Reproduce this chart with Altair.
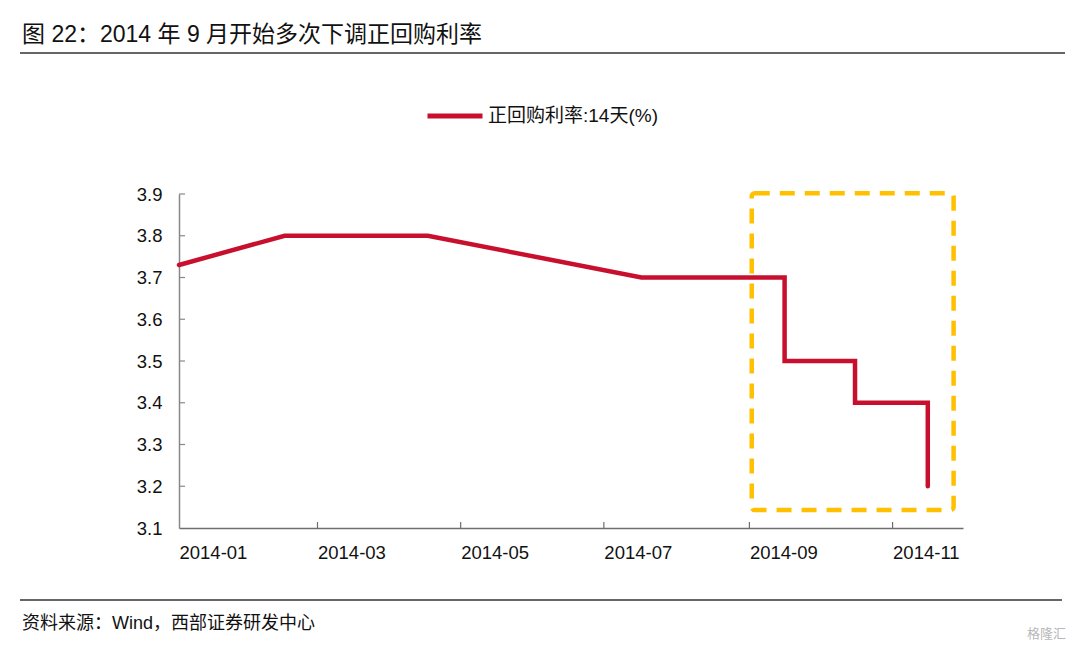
import altair as alt
import pandas as pd

# ---- data ----
dates = ["2014-01-01", "2014-02-15", "2014-04-17", "2014-07-17", "2014-09-16",
         "2014-09-16", "2014-10-16", "2014-10-16", "2014-11-16", "2014-11-16"]
rates = [3.73, 3.80, 3.80, 3.70, 3.70, 3.50, 3.50, 3.40, 3.40, 3.20]
series_name = "正回购利率:14天(%)"

y_ticks = [3.2, 3.3, 3.4, 3.5, 3.6, 3.7, 3.8, 3.9]
x_tick_dates = ["2014-03-01", "2014-05-01", "2014-07-01", "2014-09-01", "2014-11-01"]

box_x = ["2014-09-02"]
box_x2 = ["2014-11-27"]
box_y = [3.902]
box_y2 = [3.143]

title_text = "图 22：2014 年 9 月开始多次下调正回购利率"
source_text = "资料来源：Wind，西部证券研发中心"
mark_text = "格隆汇"

W, H = 784, 334
FONT = "Liberation Sans, Arial, Noto Sans CJK SC"

line_df = pd.DataFrame({"date": dates, "rate": rates, "idx": list(range(len(dates))),
                        "series": [series_name] * len(dates)})
ytick_df = pd.DataFrame({"v": y_ticks})
xtick_df = pd.DataFrame({"d": x_tick_dates})
box_df = pd.DataFrame({"x": box_x, "x2": box_x2, "y": box_y, "y2": box_y2})
one = pd.DataFrame({"a": [0]})

xscale = alt.Scale(type="utc",
                   domain=[alt.DateTime(year=2014, month=1, date=1, utc=True),
                           alt.DateTime(year=2014, month=12, date=1, utc=True)])
yscale = alt.Scale(domain=[3.1, 3.9], nice=False, zero=False)

x_axis = alt.Axis(
    values=[alt.DateTime(year=2014, month=m, date=1, utc=True) for m in [1, 3, 5, 7, 9, 11]],
    labelExpr="utcFormat(datum.value, '%Y-%m')",
    ticks=False, grid=False, domainColor="#6e6e6e", domainWidth=1.5,
    labelFontSize=18.5, labelColor="#111111", labelFont=FONT, labelPadding=15,
    labelAlign="left", title=None, labelFlush=False, labelOverlap=False,
)
y_axis = alt.Axis(
    values=[3.1, 3.2, 3.3, 3.4, 3.5, 3.6, 3.7, 3.8, 3.9], format=".1f",
    ticks=False, grid=False, domainColor="#888888", domainWidth=1.5,
    labelFontSize=18.5, labelColor="#111111", labelFont=FONT, labelPadding=17,
    title=None,
)

line = alt.Chart(line_df).mark_line(strokeWidth=4.5, strokeJoin="miter", strokeCap="round").encode(
    x=alt.X("date:T", scale=xscale, axis=x_axis),
    y=alt.Y("rate:Q", scale=yscale, axis=y_axis),
    order="idx:Q",
    color=alt.Color("series:N",
                    scale=alt.Scale(domain=[series_name], range=["#C8102E"]),
                    legend=alt.Legend(
                        title=None, orient="none", legendX=246, legendY=-108,
                        symbolType="stroke", symbolStrokeWidth=5, symbolSize=3025,
                        labelFontSize=19, labelFont=FONT, labelColor="#111111",
                        labelOffset=3, labelLimit=500,
                    )),
)

yticks = alt.Chart(ytick_df).mark_rule(color="#888888", strokeWidth=1.2).encode(
    y=alt.Y("v:Q", scale=yscale), x=alt.value(0), x2=alt.value(6)
)
xticks = alt.Chart(xtick_df).mark_rule(color="#6e6e6e", strokeWidth=1.2).encode(
    x=alt.X("d:T", scale=xscale), y=alt.value(H), y2=alt.value(H - 6)
)

box = alt.Chart(box_df).mark_rect(
    fill=None, fillOpacity=0, stroke="#FFC000", strokeWidth=4.5,
    strokeDash=[15, 10], cornerRadius=3,
).encode(
    x=alt.X("x:T", scale=xscale), x2="x2:T",
    y=alt.Y("y:Q", scale=yscale), y2="y2:Q",
)

title = alt.Chart(one).mark_text(
    text=title_text, align="left", baseline="alphabetic", fontSize=23,
    font=FONT, color="#111111",
).encode(x=alt.value(-157), y=alt.value(-152))

rule_top = alt.Chart(one).mark_rule(color="#333333", strokeWidth=1.3).encode(
    x=alt.value(-159), x2=alt.value(886), y=alt.value(-141)
)
rule_bottom = alt.Chart(one).mark_rule(color="#333333", strokeWidth=1.3).encode(
    x=alt.value(-159), x2=alt.value(883), y=alt.value(406)
)
source = alt.Chart(one).mark_text(
    text=source_text, align="left", baseline="alphabetic", fontSize=18,
    font=FONT, color="#111111",
).encode(x=alt.value(-157), y=alt.value(435))
wm = alt.Chart(one).mark_text(
    text=mark_text, align="right", baseline="alphabetic", fontSize=13,
    font=FONT, color="#b8b8b8",
).encode(x=alt.value(887), y=alt.value(444))

chart = alt.layer(
    box, line, yticks, xticks, title, rule_top, rule_bottom, source, wm
).properties(
    width=W, height=H,
    autosize=alt.AutoSizeParams(type="none"),
    padding={"left": 171, "top": 186, "right": 109, "bottom": 116},
).configure_view(stroke=None)

chart.save("out.html", embed_options={"renderer": "svg", "actions": False})
